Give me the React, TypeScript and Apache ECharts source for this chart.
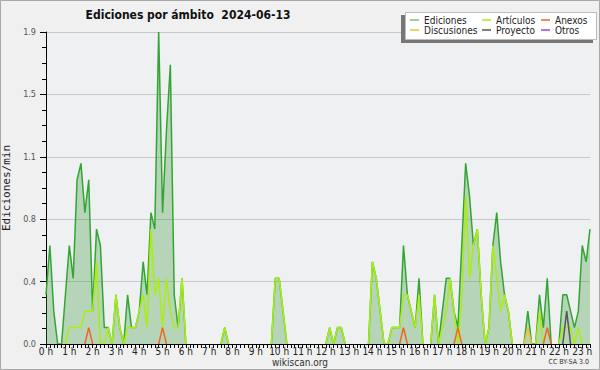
import React, { useEffect, useRef } from "react";
import * as echarts from "echarts";

// 10-minute slots, 0:00 .. 23:20 (141 points); values in edits per minute
const hourLabels = [
  "0 h", "1 h", "2 h", "3 h", "4 h", "5 h", "6 h", "7 h", "8 h", "9 h", "10 h", "11 h",
  "12 h", "13 h", "14 h", "15 h", "16 h", "17 h", "18 h", "19 h", "20 h", "21 h", "22 h", "23 h",
];
const minuteLabels = ["00", "10", "20", "30", "40", "50"];

const ediciones = [
  0.3, 0.6, 0.2, 0, 0, 0.3, 0.6, 0.4, 1.0, 1.1, 0.8, 1.0,
  0.2, 0.7, 0.6, 0.1, 0.1, 0, 0.3, 0.1, 0, 0.3, 0.1, 0.1,
  0.2, 0.5, 0.3, 0.8, 0.7, 1.9, 0.8, 1.3, 1.7, 0.3, 0.1, 0.4,
  0, 0, 0, 0, 0, 0, 0, 0, 0, 0, 0.1, 0,
  0, 0, 0, 0, 0, 0, 0, 0, 0, 0, 0, 0.4,
  0.4, 0.2, 0, 0, 0, 0, 0, 0, 0, 0, 0, 0,
  0, 0.1, 0, 0.1, 0.1, 0, 0, 0, 0, 0, 0, 0,
  0.5, 0.4, 0.2, 0, 0, 0.1, 0.1, 0.1, 0.6, 0.3, 0.2, 0.1,
  0.4, 0, 0, 0, 0.3, 0, 0.2, 0.4, 0.4, 0.2, 0.1, 0.6,
  1.1, 0.9, 0.6, 0.7, 0.3, 0, 0.1, 0.6, 0.8, 0.5, 0.3, 0.2,
  0, 0, 0, 0, 0.2, 0, 0, 0.3, 0.1, 0.4, 0, 0,
  0, 0.3, 0.3, 0.2, 0.1, 0.2, 0.6, 0.5, 0.7,
];
const articulos = [
  0, 0, 0, 0, 0, 0, 0.1, 0.1, 0.1, 0.1, 0.2, 0.2,
  0.2, 0.5, 0, 0, 0.1, 0, 0.3, 0.1, 0, 0.1, 0.1, 0.1,
  0.2, 0.3, 0.1, 0.7, 0.3, 0.4, 0.1, 0.4, 0.2, 0.1, 0.1, 0.4,
  0, 0, 0, 0, 0, 0, 0, 0, 0, 0, 0.1, 0,
  0, 0, 0, 0, 0, 0, 0, 0, 0, 0, 0, 0.4,
  0.4, 0.2, 0, 0, 0, 0, 0, 0, 0, 0, 0, 0,
  0, 0.1, 0, 0.1, 0.1, 0, 0, 0, 0, 0, 0, 0,
  0.5, 0.4, 0.2, 0, 0, 0.1, 0.1, 0.1, 0.3, 0.3, 0.2, 0.1,
  0.3, 0, 0, 0, 0.3, 0, 0.1, 0.2, 0.4, 0.2, 0, 0.3,
  0.9, 0.4, 0.6, 0.7, 0.3, 0, 0.1, 0.6, 0.4, 0.2, 0.3, 0.2,
  0, 0, 0, 0, 0, 0, 0, 0.2, 0, 0, 0, 0,
  0, 0.1, 0.1, 0.1, 0, 0.1, 0, 0, 0,
];
const anexos = [
  0, 0, 0, 0, 0, 0, 0, 0, 0, 0, 0, 0.1,
  0, 0, 0, 0, 0, 0, 0, 0, 0, 0, 0, 0,
  0, 0, 0, 0, 0, 0, 0.1, 0, 0, 0, 0, 0,
  0, 0, 0, 0, 0, 0, 0, 0, 0, 0, 0, 0,
  0, 0, 0, 0, 0, 0, 0, 0, 0, 0, 0, 0,
  0, 0, 0, 0, 0, 0, 0, 0, 0, 0, 0, 0,
  0, 0, 0, 0, 0, 0, 0, 0, 0, 0, 0, 0,
  0, 0, 0, 0, 0, 0, 0, 0, 0.1, 0, 0, 0,
  0, 0, 0, 0, 0, 0, 0, 0, 0, 0, 0.1, 0,
  0, 0, 0, 0, 0, 0, 0, 0, 0, 0, 0, 0,
  0, 0, 0, 0, 0, 0, 0, 0, 0, 0.1, 0, 0,
  0, 0, 0, 0, 0, 0, 0, 0, 0,
];
const discusiones = [
  0, 0, 0, 0, 0, 0, 0, 0, 0, 0, 0, 0,
  0, 0, 0, 0, 0, 0, 0, 0, 0, 0, 0, 0,
  0, 0, 0, 0, 0, 0, 0, 0, 0, 0, 0, 0,
  0, 0, 0, 0, 0, 0, 0, 0, 0, 0, 0, 0,
  0, 0, 0, 0, 0, 0, 0, 0, 0, 0, 0, 0,
  0, 0, 0, 0, 0, 0, 0, 0, 0, 0, 0, 0,
  0, 0, 0, 0, 0, 0, 0, 0, 0, 0, 0, 0,
  0, 0, 0, 0, 0, 0, 0, 0, 0, 0, 0, 0,
  0, 0, 0, 0, 0, 0, 0, 0, 0, 0, 0, 0,
  0, 0, 0, 0, 0, 0, 0, 0, 0, 0, 0, 0,
  0, 0, 0, 0, 0.1, 0, 0, 0, 0, 0, 0, 0,
  0, 0, 0, 0, 0, 0, 0, 0, 0,
];
const proyecto = [
  0, 0, 0, 0, 0, 0, 0, 0, 0, 0, 0, 0,
  0, 0, 0, 0, 0, 0, 0, 0, 0, 0, 0, 0,
  0, 0, 0, 0, 0, 0, 0, 0, 0, 0, 0, 0,
  0, 0, 0, 0, 0, 0, 0, 0, 0, 0, 0, 0,
  0, 0, 0, 0, 0, 0, 0, 0, 0, 0, 0, 0,
  0, 0, 0, 0, 0, 0, 0, 0, 0, 0, 0, 0,
  0, 0, 0, 0, 0, 0, 0, 0, 0, 0, 0, 0,
  0, 0, 0, 0, 0, 0, 0, 0, 0, 0, 0, 0,
  0, 0, 0, 0, 0, 0, 0, 0, 0, 0, 0, 0,
  0, 0, 0, 0, 0, 0, 0, 0, 0, 0, 0, 0,
  0, 0, 0, 0, 0, 0, 0, 0, 0, 0, 0, 0,
  0, 0, 0.2, 0, 0, 0, 0, 0, 0,
];
const otros = [
  0, 0, 0, 0, 0, 0, 0, 0, 0, 0, 0, 0,
  0, 0, 0, 0, 0, 0, 0, 0, 0, 0, 0, 0,
  0, 0, 0, 0, 0, 0, 0, 0, 0, 0, 0, 0,
  0, 0, 0, 0, 0, 0, 0, 0, 0, 0, 0, 0,
  0, 0, 0, 0, 0, 0, 0, 0, 0, 0, 0, 0,
  0, 0, 0, 0, 0, 0, 0, 0, 0, 0, 0, 0,
  0, 0, 0, 0, 0, 0, 0, 0, 0, 0, 0, 0,
  0, 0, 0, 0, 0, 0, 0, 0, 0, 0, 0, 0,
  0, 0, 0, 0, 0, 0, 0, 0, 0, 0, 0, 0,
  0, 0, 0, 0, 0, 0, 0, 0, 0, 0, 0, 0,
  0, 0, 0, 0, 0, 0, 0, 0, 0, 0, 0, 0,
  0, 0, 0, 0, 0, 0, 0, 0, 0,
];

const yMax = 1.9;
const yStep = 0.38;

const FONT = "'DejaVu Sans Condensed', 'DejaVu Sans', sans-serif";

const slots = ediciones.map((_, i) => hourLabels[Math.floor(i / 6)].replace(" h", "") + ":" + minuteLabels[i % 6]);

// hide flat zero runs (nothing is drawn there in the original)
const hideFlat = (arr: number[]) =>
  arr.map((v, i) => {
    const prev = i > 0 ? arr[i - 1] : 0;
    const next = i < arr.length - 1 ? arr[i + 1] : 0;
    return v === 0 && prev === 0 && next === 0 ? null : v;
  });

const lineSeries = (name: string, data: number[], color: string, width = 1.5, z = 3) => ({
  name,
  type: "line",
  data: hideFlat(data),
  showSymbol: false,
  symbol: "none",
  lineStyle: { color, width },
  itemStyle: { color },
  z,
});

export default function App() {
  const ref = useRef<HTMLDivElement>(null);
  useEffect(() => {
    document.body.style.margin = "0";
    const chart = echarts.init(ref.current!, null, { renderer: "svg" });
    const legendBase = {
      orient: "vertical",
      top: 15,
      padding: 0,
      icon: "rect",
      itemWidth: 9,
      itemHeight: 1.5,
      itemGap: 0,
      selectedMode: false,
      textStyle: { fontFamily: FONT, fontSize: 10, color: "#222", lineHeight: 10 },
      z: 10,
    };
    chart.setOption({
      animation: false,
      backgroundColor: "#f0f0f0",
      grid: {
        left: 46,
        right: 10,
        top: 32,
        bottom: 26,
        containLabel: false,
        outerBoundsMode: "none",
        show: true,
        backgroundColor: "#eef0f1",
        borderWidth: 0,
      },
      legend: [
        { ...legendBase, left: 410, data: [{ name: "Ediciones", itemStyle: { color: "#77c477" } }, "Discusiones"] },
        { ...legendBase, left: 482, data: ["Artículos", "Proyecto"] },
        { ...legendBase, left: 541, data: ["Anexos", "Otros"] },
      ],
      xAxis: {
        type: "category",
        data: slots,
        boundaryGap: false,
        z: 5,
        axisLine: { lineStyle: { color: "#000", width: 1 } },
        axisTick: { interval: 0, length: 4, lineStyle: { color: "#000" } },
        axisLabel: {
          interval: 5,
          margin: 3,
          fontFamily: FONT,
          fontSize: 10,
          lineHeight: 9,
          color: "#222",
          formatter: (v: string) => v.split(":")[0] + " h",
        },
        splitLine: { show: false },
      },
      yAxis: {
        type: "value",
        min: 0,
        max: yMax,
        interval: yStep,
        name: "Ediciones/min",
        nameLocation: "middle",
        nameGap: 31,
        nameRotate: 90,
        nameTextStyle: { fontFamily: "'DejaVu Sans Mono', monospace", fontSize: 11, color: "#222", lineHeight: 11 },
        axisLine: { show: true, lineStyle: { color: "#000" } },
        axisTick: { show: true, length: 6, lineStyle: { color: "#000" } },
        minorTick: { show: true, splitNumber: 4, length: 4, lineStyle: { color: "#000" } },
        axisLabel: {
          margin: 10,
          fontFamily: FONT,
          fontSize: 9,
          color: "#555",
          formatter: (v: number) => v.toFixed(1),
        },
        splitLine: { show: true, lineStyle: { color: "#c8c8c8", width: 1 } },
      },
      series: [
        {
          ...lineSeries("Ediciones", ediciones, "#33a533", 1.5, 2),
          areaStyle: { color: "rgba(60,150,60,0.45)", origin: "start" },
        },
        lineSeries("Artículos", articulos, "#aaee11"),
        lineSeries("Anexos", anexos, "#ee6622"),
        lineSeries("Discusiones", discusiones, "#f0c030"),
        lineSeries("Proyecto", proyecto, "#555555"),
        lineSeries("Otros", otros, "#9944ee"),
      ],
      graphic: [
        {
          type: "rect",
          shape: { x: 0.5, y: 0.5, width: 599, height: 369 },
          style: { fill: "none", stroke: "#a8a8a8", lineWidth: 1 },
          z: 20,
        },
        {
          type: "rect",
          shape: { x: 401, y: 15, width: 192, height: 28 },
          style: { fill: "#777" },
          z: 1,
        },
        {
          type: "rect",
          shape: { x: 405.5, y: 12.5, width: 191, height: 27 },
          style: { fill: "#fff", stroke: "#bbb", lineWidth: 1 },
          z: 2,
        },
        {
          type: "text",
          x: 188,
          y: 15,
          style: {
            text: "Ediciones por ámbito  2024-06-13",
            font: "bold 12px " + FONT,
            fill: "#111",
            textAlign: "center",
            textVerticalAlign: "middle",
          },
        },
        {
          type: "text",
          x: 300,
          y: 362,
          style: {
            text: "wikiscan.org",
            font: "10px " + FONT,
            fill: "#333",
            textAlign: "center",
            textVerticalAlign: "middle",
          },
        },
        {
          type: "text",
          x: 589,
          y: 362,
          style: {
            text: "CC BY-SA 3.0",
            font: "7px " + FONT,
            fill: "#333",
            textAlign: "right",
            textVerticalAlign: "middle",
          },
        },
      ],
    });
    return () => chart.dispose();
  }, []);
  return <div ref={ref} style={{ width: 600, height: 370 }} />;
}
